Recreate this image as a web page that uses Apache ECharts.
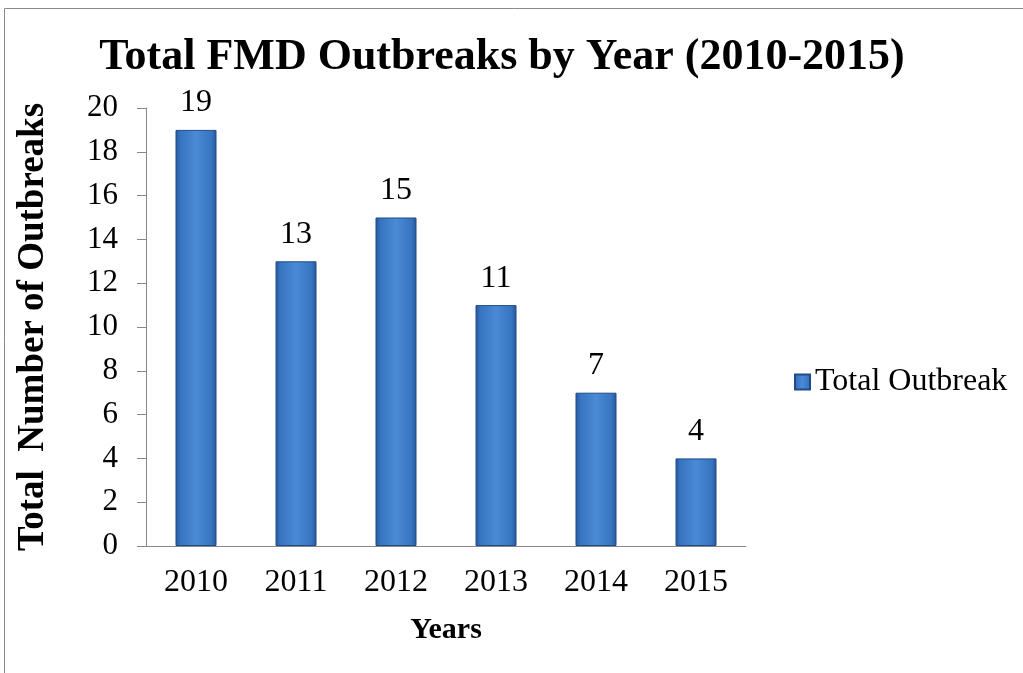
<!DOCTYPE html>
<html>
<head>
<meta charset="utf-8">
<script src="https://cdn.jsdelivr.net/npm/echarts@6/dist/echarts.min.js"></script>
<style>html,body{margin:0;padding:0;background:#fff}#c{width:1023px;height:673px}</style>
</head>
<body>
<div id="c"></div>
<script>
const categories = ['2010', '2011', '2012', '2013', '2014', '2015'];
const outbreaks = [19, 13, 15, 11, 7, 4];
const seriesName = 'Total Outbreak';
const yTicks = {min: 0, max: 20, interval: 2};

const F = 'Liberation Serif, Times New Roman, serif';
const chart = echarts.init(document.getElementById('c'));
const barColor = new echarts.graphic.LinearGradient(0, 0, 1, 0, [
  {offset: 0, color: '#24579a'},
  {offset: 0.12, color: '#3874c0'},
  {offset: 0.5, color: '#4a8ad6'},
  {offset: 0.88, color: '#3874c0'},
  {offset: 1, color: '#24579a'}
]);
chart.setOption({
  backgroundColor: '#fff',
  animation: false,
  title: {
    text: 'Total FMD Outbreaks by Year (2010-2015)',
    left: 497, top: 31, textAlign: 'center',
    textStyle: {fontFamily: F, fontSize: 44, fontWeight: 'bold', color: '#000'}
  },
  graphic: [{
    type: 'rect', shape: {x: 4.5, y: 8.5, width: 1040, height: 700},
    style: {fill: 'none', stroke: '#8a8a8a', lineWidth: 1}, silent: true, z: -1
  }],
  grid: {left: 146, right: 277, top: 108, bottom: 127},
  legend: {
    data: [seriesName], left: 789, top: 361, icon: 'rect', itemWidth: 15, itemHeight: 15, itemGap: 8,
    textStyle: {fontFamily: F, fontSize: 32, color: '#000'}
  },
  xAxis: {
    type: 'category', data: categories,
    name: 'Years', nameLocation: 'middle', nameGap: 69,
    nameTextStyle: {fontFamily: F, fontSize: 30, fontWeight: 'bold', color: '#000'},
    axisLine: {lineStyle: {color: '#888', width: 1}},
    axisTick: {length: 8, lineStyle: {color: '#888'}},
    axisLabel: {fontFamily: F, fontSize: 32, color: '#000', margin: 21}
  },
  yAxis: {
    type: 'value', min: yTicks.min, max: yTicks.max, interval: yTicks.interval,
    name: 'Total  Number of Outbreaks', nameLocation: 'middle', nameGap: 94,
    nameTextStyle: {fontFamily: F, fontSize: 37, fontWeight: 'bold', color: '#000'},
    axisLine: {show: true, lineStyle: {color: '#888', width: 1}},
    axisTick: {show: true, length: 9, lineStyle: {color: '#888'}},
    splitLine: {show: false},
    axisLabel: {fontFamily: F, fontSize: 31, color: '#000', margin: 28}
  },
  series: [{
    name: seriesName, type: 'bar', data: outbreaks, barWidth: 41,
    itemStyle: {color: barColor, borderColor: '#1f4c86', borderWidth: 1},
    label: {show: true, position: 'top', distance: 11, fontFamily: F, fontSize: 32, color: '#000'}
  }]
});
</script>
</body>
</html>
